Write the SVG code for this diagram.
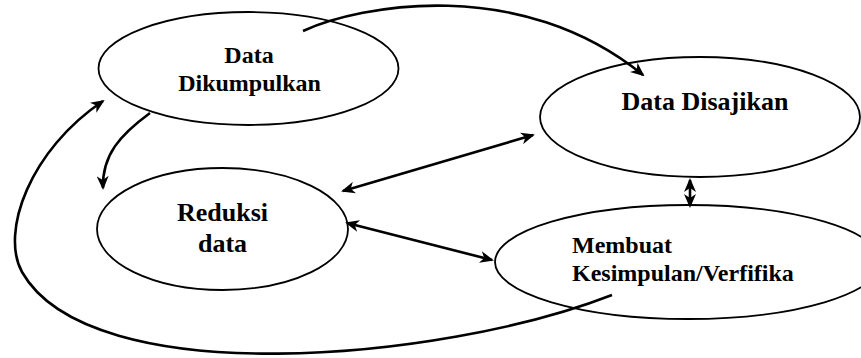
<svg xmlns="http://www.w3.org/2000/svg" width="861" height="358" viewBox="0 0 861 358">
<style>
.node ellipse{fill:#fff;stroke:#000;stroke-width:1.8}
.lbl{font-family:"Liberation Serif","Times New Roman",serif;font-weight:bold;fill:#000}
.conn path{fill:none;stroke:#000;stroke-width:2.6}
</style>
<defs>
<marker id="ah" viewBox="0 0 14 12" refX="12" refY="6" markerWidth="14" markerHeight="12" markerUnits="userSpaceOnUse" orient="auto-start-reverse">
<path d="M0,0 L14,6 L0,12 L4,6 z" fill="#000"/>
</marker>
</defs>
<rect width="861" height="358" fill="#fff"/>
<g id="node-dikumpulkan" class="node">
<ellipse cx="248.5" cy="68.5" rx="150" ry="56.5"/>
<text class="lbl" font-size="24" text-anchor="middle" x="249" y="63">Data</text>
<text class="lbl" font-size="24" text-anchor="middle" x="249.5" y="91">Dikumpulkan</text>
</g>
<g id="node-disajikan" class="node">
<ellipse cx="700" cy="117" rx="160" ry="60"/>
<text class="lbl" font-size="26" text-anchor="middle" x="705" y="110">Data Disajikan</text>
</g>
<g id="node-reduksi" class="node">
<ellipse cx="222.5" cy="229" rx="125.5" ry="61"/>
<text class="lbl" font-size="26" text-anchor="middle" x="222.5" y="221">Reduksi</text>
<text class="lbl" font-size="26" text-anchor="middle" x="222.5" y="252">data</text>
</g>
<g id="node-kesimpulan" class="node">
<ellipse cx="688" cy="262" rx="193" ry="57"/>
<text class="lbl" font-size="24" x="572" y="253">Membuat</text>
<text class="lbl" font-size="24" x="572" y="281">Kesimpulan/Verfifika</text>
</g>
<g id="connectors" class="conn">
<path d="M303,31 C360,5 520,-25 643,75" marker-end="url(#ah)"/>
<path d="M150,113 C120,135 102,155 103,188" marker-end="url(#ah)"/>
<path d="M612,295 C440,362 90,392 22,272 C0,232 30,150 103,101" marker-end="url(#ah)"/>
<path d="M343,191 L533,135" marker-start="url(#ah)" marker-end="url(#ah)"/>
<path d="M347,223 L492,260" marker-start="url(#ah)" marker-end="url(#ah)"/>
<path d="M690,180 L690,206" marker-start="url(#ah)" marker-end="url(#ah)"/>
</g>
</svg>
